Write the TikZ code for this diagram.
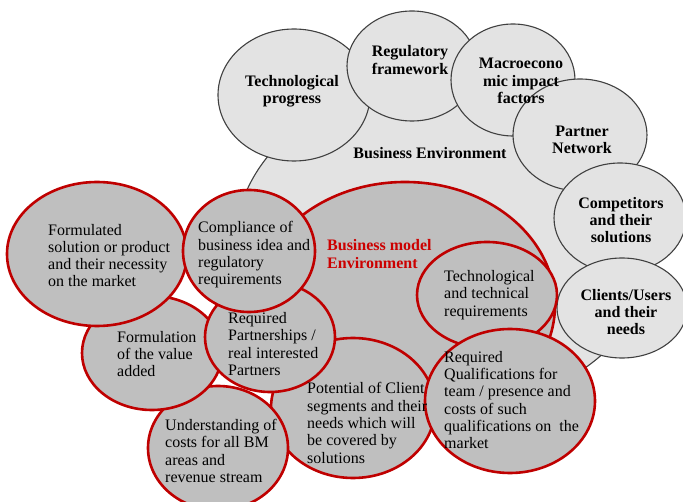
\documentclass[tikz,border=0pt]{standalone}
\usepackage{fontspec}
\setmainfont{Liberation Serif}
\begin{document}
\begin{tikzpicture}[x=1pt,y=-1pt,
  envell/.style={draw=black!75,line width=1.1pt,fill=black!11},
  bmell/.style={draw=red!75!black,line width=2.6pt,fill=black!25},
  envtxt/.style={font=\fontsize{16}{17.2}\selectfont\bfseries,align=center,inner sep=0pt},
  bmtxt/.style={font=\fontsize{16}{17.3}\selectfont,align=left,inner sep=0pt,anchor=west},
  bmtitle/.style={font=\fontsize{16}{17.3}\selectfont\bfseries,align=left,inner sep=0pt,anchor=west,text=red!80!black}]
\useasboundingbox (0,0) rectangle (683,502);
% Business environment
\path[envell] (445,245) ellipse [x radius=210,y radius=165];
\path[envell] (294,95) ellipse [x radius=76,y radius=66];
\path[envell] (412,66) ellipse [x radius=65,y radius=55];
\path[envell] (513,80) ellipse [x radius=62,y radius=56];
\path[envell] (580,135) ellipse [x radius=67,y radius=56];
\path[envell] (620,218) ellipse [x radius=66,y radius=55];
\path[envell] (622,308) ellipse [x radius=65,y radius=50];
\node[envtxt] (be) at (430,153) {Business Environment};
\node[envtxt] (tp) at (292,91) {Technological\\progress};
\node[envtxt] (rf) at (410,60) {Regulatory\\framework};
\node[envtxt] (mi) at (521,81) {Macroecono\\mic impact\\factors};
\node[envtxt] (pn) at (582,140) {Partner\\Network};
\node[envtxt] (cs) at (621,220) {Competitors\\and their\\solutions};
\node[envtxt] (cu) at (626,312) {Clients/Users\\and their\\needs};
% Business model environment
\path[bmell] (405,305) ellipse [x radius=150,y radius=123];
\path[bmell] (353,408) ellipse [x radius=82,y radius=70];
\path[bmell] (218,448) ellipse [x radius=70,y radius=62];
\path[bmell] (152,353) ellipse [x radius=70,y radius=57];
\path[bmell] (270,337) ellipse [x radius=65,y radius=55];
\path[bmell] (97,254) ellipse [x radius=90,y radius=72];
\path[bmell] (249,251) ellipse [x radius=66,y radius=61];
\path[bmell] (487,295) ellipse [x radius=70,y radius=53];
\path[bmell] (510,401) ellipse [x radius=85,y radius=72];
\node[bmtitle] (bm) at (327,254) {Business model\\Environment};
\node[bmtxt] (fs) at (48,255.5) {Formulated\\solution or product\\and their necessity\\on the market};
\node[bmtxt] (cb) at (198,255) {Compliance of\\business idea and\\regulatory\\requirements};
\node[bmtxt] (rp) at (228,344) {Required\\Partnerships /\\real interested\\Partners};
\node[bmtxt] (fv) at (117,354) {Formulation\\of the value\\added};
\node[bmtxt] (uc) at (165,451) {Understanding of\\costs for all BM\\areas and\\revenue stream};
\node[bmtxt] (pc) at (307,423) {Potential of Client\\segments and their\\needs which will\\be covered by\\solutions};
\node[bmtxt] (tt) at (444,295) {Technological\\and technical\\requirements};
\node[bmtxt] (rq) at (444,400) {Required\\Qualifications for\\team / presence and\\costs of such\\qualifications on\ \ the\\market};
\end{tikzpicture}
\end{document}
